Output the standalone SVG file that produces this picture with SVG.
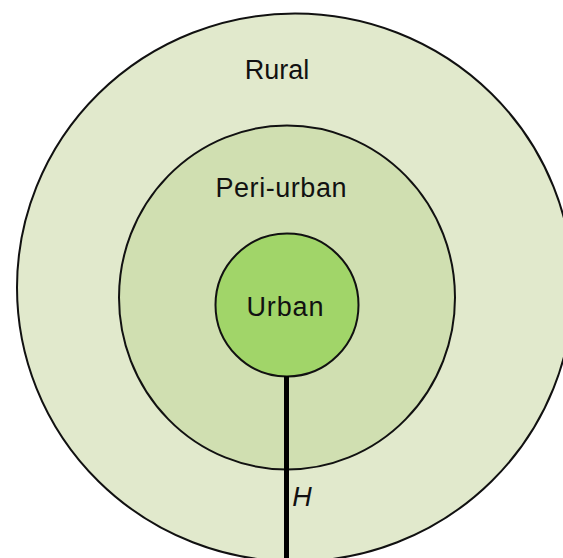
<svg xmlns="http://www.w3.org/2000/svg" width="563" height="558" viewBox="0 0 563 558">
<style>
.ring{stroke:#111;stroke-width:2}
.lbl{font-family:"Liberation Sans",Arial,sans-serif;font-size:27px;fill:#111;text-anchor:middle}
</style>
<rect width="563" height="558" fill="#fff"/>
<g id="rural">
<ellipse class="ring" cx="295" cy="287.5" rx="278" ry="274" fill="#e1e9cc"/>
<text class="lbl" x="277" y="79">Rural</text>
</g>
<g id="peri-urban">
<ellipse class="ring" cx="287" cy="297.5" rx="168" ry="172" fill="#d0dfb1"/>
<text class="lbl" x="281" y="197" textLength="131">Peri-urban</text>
</g>
<g id="urban">
<circle class="ring" cx="287" cy="305" r="71.5" fill="#a1d569"/>
<text class="lbl" x="285" y="316" textLength="77">Urban</text>
</g>
<g id="connectors">
<line x1="286.5" y1="376" x2="286.5" y2="558" stroke="#000" stroke-width="5"/>
<text class="lbl" x="302" y="506" font-style="italic" font-size="25">H</text>
</g>
</svg>
